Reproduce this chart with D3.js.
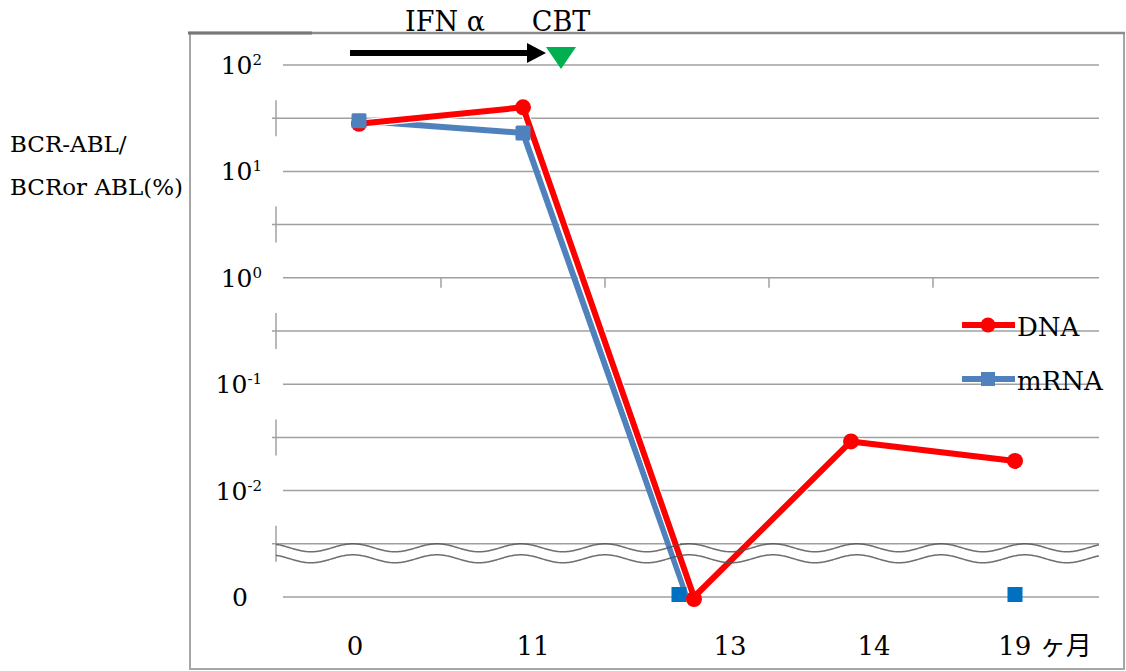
<!DOCTYPE html>
<html>
<head>
<meta charset="utf-8">
<script src="https://cdn.jsdelivr.net/npm/d3@7"></script>
<style>
  html, body { margin: 0; padding: 0; background: #fff; }
  svg { display: block; }
  text { font-family: "DejaVu Serif", "Liberation Serif", "Noto Sans CJK JP", serif; fill: #000; }
</style>
</head>
<body>
<svg id="chart" width="1126" height="671"></svg>
<script>
// Months after diagnosis
const categories = ["0", "11", "13", "14", "19"];
const categoryLabels = ["0", "11", "13", "14", "19 ヶ月"];
// BCR-ABL / BCR or ABL (%); 0 = not detected, null = not measured
const dnaValues  = [28, 40, 0, 0.029, 0.019];
const mrnaValues = [30, 23, 0, null, 0];
// Decade exponents for the log axis, plus the "0" level under the break
const decadeExponents = [2, 1, 0, -1, -2];
const zeroLabel = "0";
const seriesNames = ["DNA", "mRNA"];
const therapyLabels = ["IFN α", "CBT"];

const svg = d3.select("#chart");

// frame
svg.append("rect").attr("x", 190).attr("y", 33).attr("width", 934).attr("height", 636)
  .attr("fill", "#fff").attr("stroke", "#a6a6a6").attr("stroke-width", 2);
svg.append("line").attr("x1", 189).attr("x2", 1125).attr("y1", 33).attr("y2", 33)
  .attr("stroke", "#8c8c8c").attr("stroke-width", 2.5);
svg.append("line").attr("x1", 188).attr("x2", 312).attr("y1", 33).attr("y2", 33)
  .attr("stroke", "#777").attr("stroke-width", 3);

// scales
const x = d3.scaleBand().domain(categories).range([277, 1097]).padding(0);
const xc = c => x(c) + x.bandwidth() / 2;
const zeroValue = 1e-3;                // "0" sits one decade below 10^-2
const y = d3.scaleLog().domain([zeroValue, 1e2]).range([597, 65]);
const yv = v => y(v === 0 ? zeroValue : v);

const gridRight = 1099;
const gridColor = "#a0a0a0";

// decade gridlines (and the zero line)
const decadeVals = decadeExponents.map(e => Math.pow(10, e)).concat([zeroValue]);
svg.append("g").selectAll("line").data(decadeVals).join("line")
  .attr("x1", 283).attr("x2", gridRight)
  .attr("y1", d => y(d)).attr("y2", d => y(d))
  .attr("stroke", gridColor).attr("stroke-width", 1.5);

// half-decade gridlines with their short axis stubs
const halfVals = [1.5, 0.5, -0.5, -1.5, -2.5].map(e => Math.pow(10, e));
const half = svg.append("g");
half.selectAll("line.h").data(halfVals).join("line").attr("class", "h")
  .attr("x1", 272).attr("x2", gridRight)
  .attr("y1", d => y(d)).attr("y2", d => y(d))
  .attr("stroke", gridColor).attr("stroke-width", 1.5);
half.selectAll("line.v").data(halfVals).join("line").attr("class", "v")
  .attr("x1", 276).attr("x2", 276)
  .attr("y1", d => y(d) - 18).attr("y2", d => y(d) + 18)
  .attr("stroke", gridColor).attr("stroke-width", 1.5);

// category boundary ticks on the 10^0 line
const bounds = categories.slice(1).map(c => x(c));
svg.append("g").selectAll("line").data(bounds).join("line")
  .attr("x1", d => d).attr("x2", d => d)
  .attr("y1", y(1)).attr("y2", y(1) + 10)
  .attr("stroke", gridColor).attr("stroke-width", 1.5);

// y tick labels
const yl = svg.append("g").attr("font-size", 25);
decadeExponents.forEach(e => {
  const t = yl.append("text").attr("x", 262).attr("y", y(Math.pow(10, e)) + 9)
    .attr("text-anchor", "end");
  t.append("tspan").text("10");
  t.append("tspan").attr("dy", -9).attr("font-size", 15).text(e < 0 ? "-" + Math.abs(e) : String(e));
});
yl.append("text").attr("x", 240).attr("y", y(zeroValue) + 9).attr("text-anchor", "middle").text(zeroLabel);

// y axis title
const yt = svg.append("g").attr("font-size", 23);
yt.append("text").attr("x", 10).attr("y", 152).text("BCR-ABL/");
yt.append("text").attr("x", 10).attr("y", 195).text("BCRor ABL(%)");

// x labels
const xLabelShift = [-4, 10, 43, 23, 30];
svg.append("g").attr("font-size", 26).selectAll("text").data(categories).join("text")
  .attr("x", (d, i) => xc(d) + xLabelShift[i]).attr("y", 655)
  .attr("text-anchor", "middle")
  .text((d, i) => categoryLabels[i]);

// series
const red = "#ff0000", blue = "#4f81bd", blueND = "#0070c0";
// where both series are undetected at the same month, nudge them apart
const bothZero = c => dnaValues[categories.indexOf(c)] === 0 && mrnaValues[categories.indexOf(c)] === 0;
const dna = categories.map((c, i) => ({ c, v: dnaValues[i], dx: dnaValues[i] === 0 && bothZero(c) ? 7 : 0 }));
const mrna = categories.map((c, i) => ({ c, v: mrnaValues[i], dx: 0 }));
const line = d3.line().defined(d => d.v != null).x(d => xc(d.c) + d.dx).y(d => yv(d.v));

svg.append("path").datum(mrna.slice(0, 3)).attr("d", line)
  .attr("fill", "none").attr("stroke", blue).attr("stroke-width", 6).attr("stroke-linejoin", "round");

svg.append("path").datum(dna).attr("d", line)
  .attr("fill", "none").attr("stroke", "#fff").attr("stroke-width", 8.5).attr("stroke-linejoin", "round");
svg.append("path").datum(dna).attr("d", line)
  .attr("fill", "none").attr("stroke", red).attr("stroke-width", 6).attr("stroke-linejoin", "round");

// not-detected mRNA markers
const ndShift = c => (bothZero(c) ? -8 : 0);
svg.append("g").selectAll("rect").data(mrna.filter(d => d.v === 0)).join("rect")
  .attr("x", d => xc(d.c) + ndShift(d.c) - 7.5).attr("y", d => yv(d.v) - 10)
  .attr("width", 15).attr("height", 15).attr("fill", blueND);

svg.append("g").selectAll("circle").data(dna).join("circle")
  .attr("cx", d => xc(d.c) + d.dx).attr("cy", d => yv(d.v) + (d.v === 0 ? 2 : 0)).attr("r", 8).attr("fill", red);

svg.append("g").selectAll("rect").data(mrna.filter(d => d.v > 0)).join("rect")
  .attr("x", d => xc(d.c) - 7.5).attr("y", d => yv(d.v) - 7.5)
  .attr("width", 15).attr("height", 15).attr("rx", 1.5).attr("fill", blue);

// axis break waves
const waveTop = y(Math.pow(10, -2.5));
const period = 84, phase = 353;
function wave(base) {
  const pts = d3.range(276, gridRight + 0.5, 1).map(px =>
    [px, base + 4 * (1 - Math.cos(2 * Math.PI * (px - phase) / period))]);
  return d3.line()(pts);
}
[waveTop, waveTop + 11].forEach(b => {
  svg.append("path").attr("d", wave(b)).attr("fill", "none")
    .attr("stroke", "#555").attr("stroke-width", 1.5).attr("opacity", 0.85);
});

// legend
const lg = svg.append("g");
const legendRows = [
  { name: seriesNames[0], color: red, y: 325, shape: "circle" },
  { name: seriesNames[1], color: blue, y: 379, shape: "square" }
];
legendRows.forEach(r => {
  lg.append("line").attr("x1", 962).attr("x2", 1015).attr("y1", r.y).attr("y2", r.y)
    .attr("stroke", r.color).attr("stroke-width", 6);
  if (r.shape === "circle") {
    lg.append("circle").attr("cx", 988).attr("cy", r.y).attr("r", 7.5).attr("fill", r.color);
  } else {
    lg.append("rect").attr("x", 981).attr("y", r.y - 7).attr("width", 14).attr("height", 14).attr("fill", r.color);
  }
  lg.append("text").attr("x", 1017).attr("y", r.y + 11).attr("font-size", 26).text(r.name);
});

// therapy annotations
const ann = svg.append("g");
const arrowY = 53, arrowStart = xc("0") - 9, arrowEnd = xc("11") + 4;
ann.append("line").attr("x1", arrowStart).attr("x2", arrowEnd).attr("y1", arrowY).attr("y2", arrowY)
  .attr("stroke", "#000").attr("stroke-width", 6);
ann.append("path").attr("d", `M${arrowEnd},${arrowY - 10}L${arrowEnd + 19},${arrowY}L${arrowEnd},${arrowY + 10}Z`)
  .attr("fill", "#000");
const cbtX = arrowEnd + 34;
ann.append("path").attr("d", `M${cbtX - 15},47L${cbtX + 15},47L${cbtX},69Z`).attr("fill", "#00b050");
ann.append("text").attr("x", 445).attr("y", 31).attr("font-size", 27).attr("text-anchor", "middle").text(therapyLabels[0]);
ann.append("text").attr("x", cbtX).attr("y", 31).attr("font-size", 27).attr("text-anchor", "middle").text(therapyLabels[1]);
</script>
</body>
</html>
